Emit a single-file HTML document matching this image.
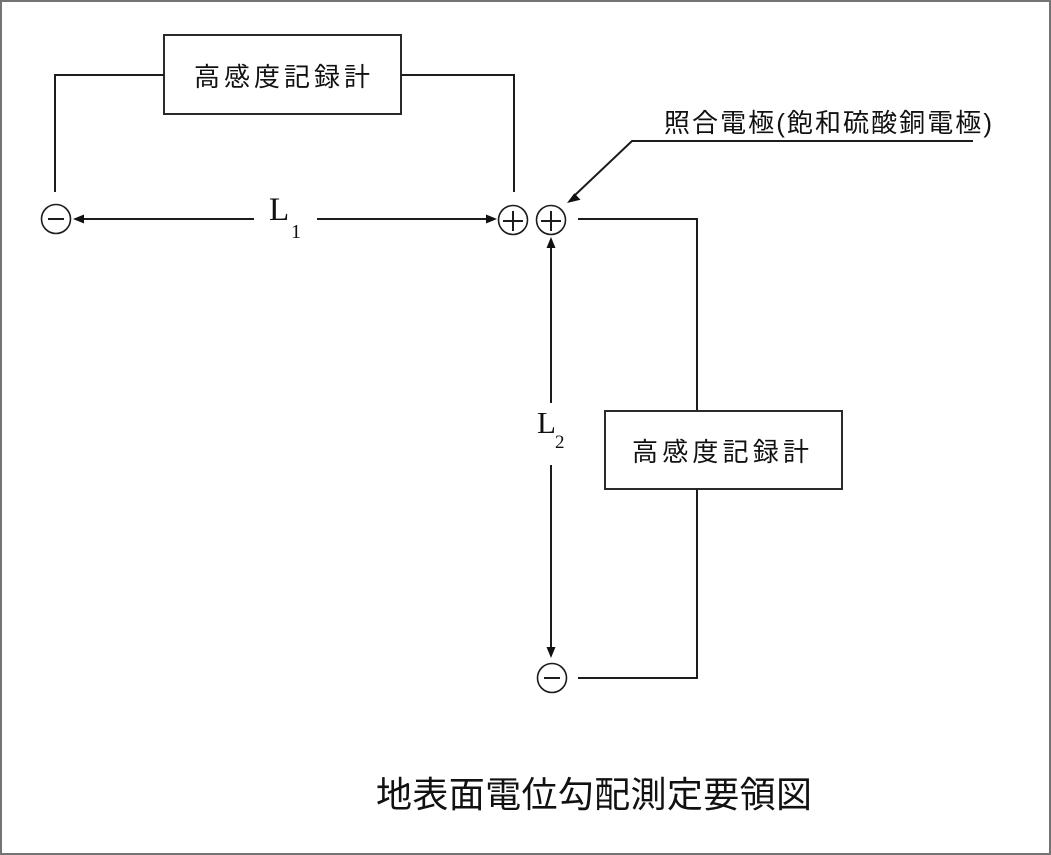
<!DOCTYPE html>
<html>
<head>
<meta charset="utf-8">
<style>
  html, body { margin: 0; padding: 0; background: #fff; }
  .frame {
    position: relative;
    width: 1051px; height: 855px;
    box-sizing: border-box;
    border: 2px solid #747474;
    background: #fff;
    overflow: hidden;
  }
  svg { position: absolute; left: -2px; top: -2px; }
  .jp { font-family: "Liberation Sans", "Noto Sans CJK JP", sans-serif; fill: #111; }
  .ser { font-family: "Liberation Serif", serif; fill: #111; }
</style>
</head>
<body>
<div class="frame">
<svg width="1051" height="855" viewBox="0 0 1051 855" xmlns="http://www.w3.org/2000/svg">
  <g fill="none" stroke="#1c1c1c" stroke-width="2">
    <!-- top recorder box -->
    <rect x="164" y="35" width="237" height="79" stroke="#2a2a2a"/>
    <polyline points="164,75 55,75 55,192"/>
    <polyline points="401,75 514,75 514,192"/>

    <!-- L1 dimension line -->
    <line x1="82" y1="219" x2="254" y2="219"/>
    <line x1="317" y1="219" x2="488" y2="219"/>

    <!-- leader to reference electrode -->
    <polyline points="973,141 632,141 574,196"/>

    <!-- wire from plus2 to lower box -->
    <polyline points="578,219 697,219 697,411"/>
    <rect x="605" y="411" width="237" height="78" stroke="#2a2a2a"/>
    <polyline points="697,489 697,678 578,678"/>

    <!-- L2 vertical dimension -->
    <line x1="551" y1="246" x2="551" y2="403"/>
    <line x1="551" y1="465" x2="551" y2="649"/>

    <!-- circles -->
    <circle cx="56" cy="219" r="14.5" stroke-width="1.6"/>
    <circle cx="513" cy="220" r="14.5" stroke-width="1.6"/>
    <circle cx="551" cy="220" r="14.5" stroke-width="1.6"/>
    <circle cx="552" cy="678" r="14.5" stroke-width="1.6"/>

    <!-- minus / plus signs -->
    <line x1="48" y1="219" x2="64" y2="219"/>
    <line x1="503" y1="221" x2="523" y2="221"/>
    <line x1="513" y1="211" x2="513" y2="231"/>
    <line x1="541" y1="221" x2="561" y2="221"/>
    <line x1="551" y1="211" x2="551" y2="231"/>
    <line x1="544" y1="678" x2="560" y2="678"/>
  </g>

  <!-- arrowheads -->
  <g fill="#111" stroke="none">
    <polygon points="73,219 84,214.5 84,223.5"/>
    <polygon points="497,219 486,214.5 486,223.5"/>
    <polygon points="551,237 546.5,248 555.5,248"/>
    <polygon points="551,658 546.5,647 555.5,647"/>
    <polygon points="567,203 574.3,193.2 580.5,199.7"/>
  </g>

  <!-- texts -->
  <text class="jp" x="194" y="86" font-size="26" textLength="176" lengthAdjust="spacing">高感度記録計</text>
  <text class="jp" x="632" y="461" font-size="26" textLength="177" lengthAdjust="spacing">高感度記録計</text>
  <text class="jp" x="664" y="132" font-size="26" textLength="328" lengthAdjust="spacing">照合電極(飽和硫酸銅電極)</text>
  <text class="jp" x="376" y="807" font-size="36" textLength="436" lengthAdjust="spacing">地表面電位勾配測定要領図</text>

  <text class="ser" x="269" y="220" font-size="33">L</text>
  <text class="ser" x="291" y="238" font-size="20">1</text>
  <text class="ser" x="537" y="433" font-size="31">L</text>
  <text class="ser" x="555" y="448" font-size="19">2</text>
</svg>
</div>
</body>
</html>
